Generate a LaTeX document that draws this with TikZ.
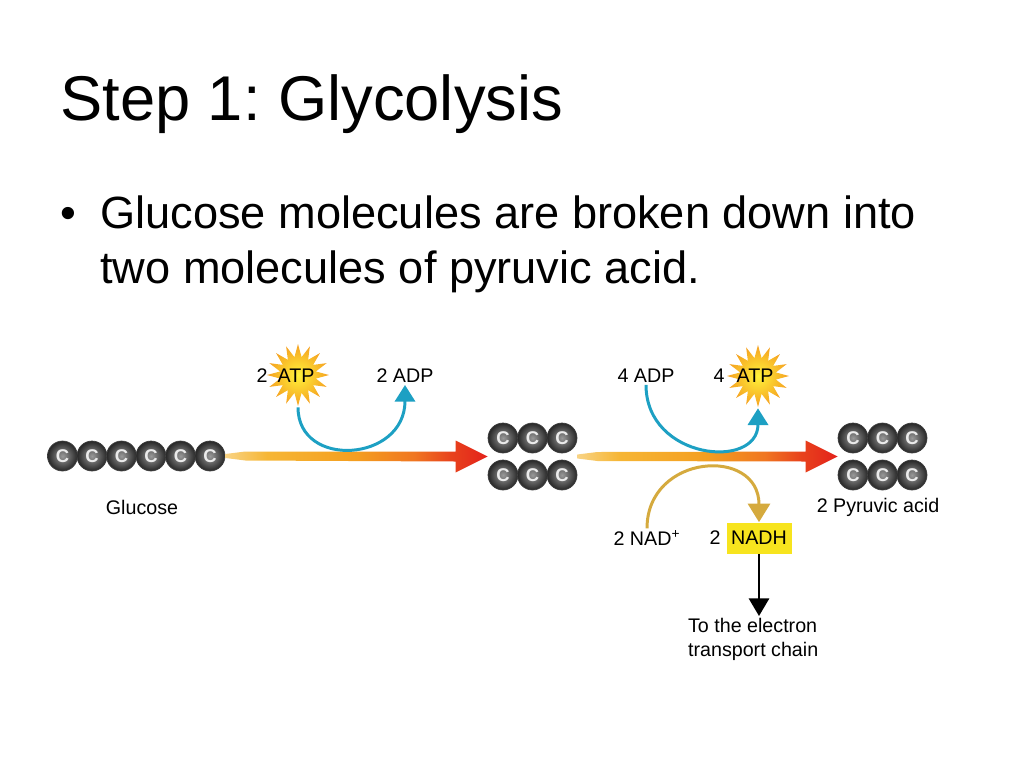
\documentclass[tikz,border=0pt]{standalone}
\usepackage{fontspec}
\setmainfont{Liberation Sans}
\usepackage{tikz}
\usetikzlibrary{shapes.geometric,arrows.meta,calc}
\usepackage{xcolor}
\frenchspacing
\definecolor{arrowA}{HTML}{F8D384}
\definecolor{arrowB}{HTML}{F6B635}
\definecolor{arrowC}{HTML}{F49E20}
\definecolor{arrowD}{HTML}{F07621}
\definecolor{arrowE}{HTML}{E8421C}
\definecolor{arrowF}{HTML}{E3221B}
\definecolor{atpcyan}{HTML}{1DA0C3}
\definecolor{nadgold}{HTML}{D5AA3E}
\definecolor{nadhyellow}{HTML}{F7E41E}
\definecolor{starin}{HTML}{FFF23A}
\definecolor{starout}{HTML}{F5A020}
\pgfdeclarehorizontalshading{rxnshade}{100bp}{color(0bp)=(arrowA); color(25bp)=(arrowA);
  color(33bp)=(arrowB); color(50bp)=(arrowC); color(61bp)=(arrowD); color(68bp)=(arrowE);
  color(75bp)=(arrowF); color(100bp)=(arrowF)}

\tikzset{
  carbon/.style={circle,inner sep=0pt,minimum size=0.6cm,inner color=black!40,outer color=black!85,
    draw=black!75,line width=0.4pt,text=white!92!black,font=\bfseries\fontsize{10.5}{10.5}\selectfont},
  lbl/.style={inner sep=1pt,font=\fontsize{11.2}{13.6}\selectfont},
  burst/.style={star,star points=16,star point ratio=1.7,minimum size=1.24cm,inner sep=0pt,
    inner color=starin,outer color=starout},
  cyanline/.style={draw=atpcyan,line width=1.7pt,-{Triangle[width=11.5pt,length=9.5pt]}},
  goldline/.style={draw=nadgold,line width=1.7pt,-{Triangle[width=12.5pt,length=10.5pt]}},
  blackline/.style={draw=black,line width=1.2pt,-{Triangle[width=11.5pt,length=10pt]}}
}
% shaded reaction arrow, from #1 to the tip #2
\newcommand{\gradarrow}[2]{%
  \shade[shading=rxnshade]
    ($(#1)+(0,-2)$) -- ($(#1)+(20,-4.5)$) -- ($(#2)+(-32,-5)$) -- ($(#2)+(-32,-16)$) -- (#2)
    -- ($(#2)+(-32,16)$) -- ($(#2)+(-32,5)$) -- ($(#1)+(20,4.5)$) -- ($(#1)+(0,2)$) -- cycle;}

\begin{document}
\begin{tikzpicture}[x=0.02cm,y=-0.02cm]
  \useasboundingbox (0,0) rectangle (1024,768);
  \pgfmathsetmacro{\dc}{29.5}
  \pgfmathsetmacro{\ytop}{438}
  \pgfmathsetmacro{\ybot}{475}

  \node[anchor=base west,inner sep=0pt,font=\fontsize{36}{36}\selectfont] (title) at (60,120) {Step 1: Glycolysis};
  \node[anchor=base west,inner sep=0pt,font=\fontsize{25.7}{31}\selectfont] (bullet) at (60,228) {•};
  \node[anchor=base west,inner sep=0pt,font=\fontsize{25.7}{31}\selectfont] (body1) at (100,228) {Glucose molecules are broken down into};
  \node[anchor=base west,inner sep=0pt,font=\fontsize{25.7}{31}\selectfont] (body2) at (100,283) {two molecules of pyruvic acid.};

  \foreach \i [count=\k] [evaluate=\k as \cx using (\k-1)*\dc+62.5] in {1,...,6}
    \node[carbon] (g\k) at (\cx,456) {C};
  \foreach \i [count=\k] [evaluate=\k as \cx using (\k-1)*\dc+503] in {1,2,3}
  { \node[carbon] (mt\k) at (\cx,\ytop) {C};
    \node[carbon] (mb\k) at (\cx,\ybot) {C};
  }
  \foreach \i [count=\k] [evaluate=\k as \cx using (\k-1)*\dc+853] in {1,2,3}
  { \node[carbon] (pt\k) at (\cx,\ytop) {C};
    \node[carbon] (pb\k) at (\cx,\ybot) {C};
  }

  \coordinate (midin) at ($(mt1.west)!0.5!(mb1.west)$);
  \coordinate (midout) at ($(mt3.east)!0.5!(mb3.east)$);
  \coordinate (pyrin) at ($(pt1.west)!0.5!(pb1.west)$);
  \gradarrow{g6.east}{midin}
  \gradarrow{midout}{pyrin}

  \node[lbl] (glucose) at (142,507) {Glucose};
  \node[lbl] (pyruvic) at (878,507) {2 Pyruvic acid};

  \node[burst] (star1) at (298,375) {};
  \node[lbl] (atp1) at (296,376) {ATP};
  \node[lbl] (atp1n) at (262,376) {2};
  \node[lbl] (adp1) at (405,376) {2 ADP};
  \node[lbl] (adp2) at (646,376) {4 ADP};
  \node[burst] (star2) at (758,376) {};
  \node[lbl] (atp2) at (755,376) {ATP};
  \node[lbl] (atp2n) at (719,376) {4};

  \node[lbl] (nad) at (647,538) {2 NAD\textsuperscript{+}};
  \node[lbl,fill=nadhyellow,minimum width=1.3cm,minimum height=0.62cm] (nadh) at (759,538) {NADH};
  \node[lbl] (nadhn) at (715,538) {2};
  \node[lbl,align=left,anchor=north west] (etc) at (686,616) {To the electron\\transport chain};

  \draw[cyanline] (star1.south) .. controls +(0,62) and +(0,77) .. (adp1.south);
  \draw[cyanline] (adp2.south) .. controls +(0,75) and +(0,62) .. (star2.south);
  \draw[goldline] (nad.north) .. controls +(0,-75) and +(0,-76) .. (nadh.north);
  \draw[blackline] (nadh.south) -- (nadh.south |- etc.north);
\end{tikzpicture}
\end{document}
